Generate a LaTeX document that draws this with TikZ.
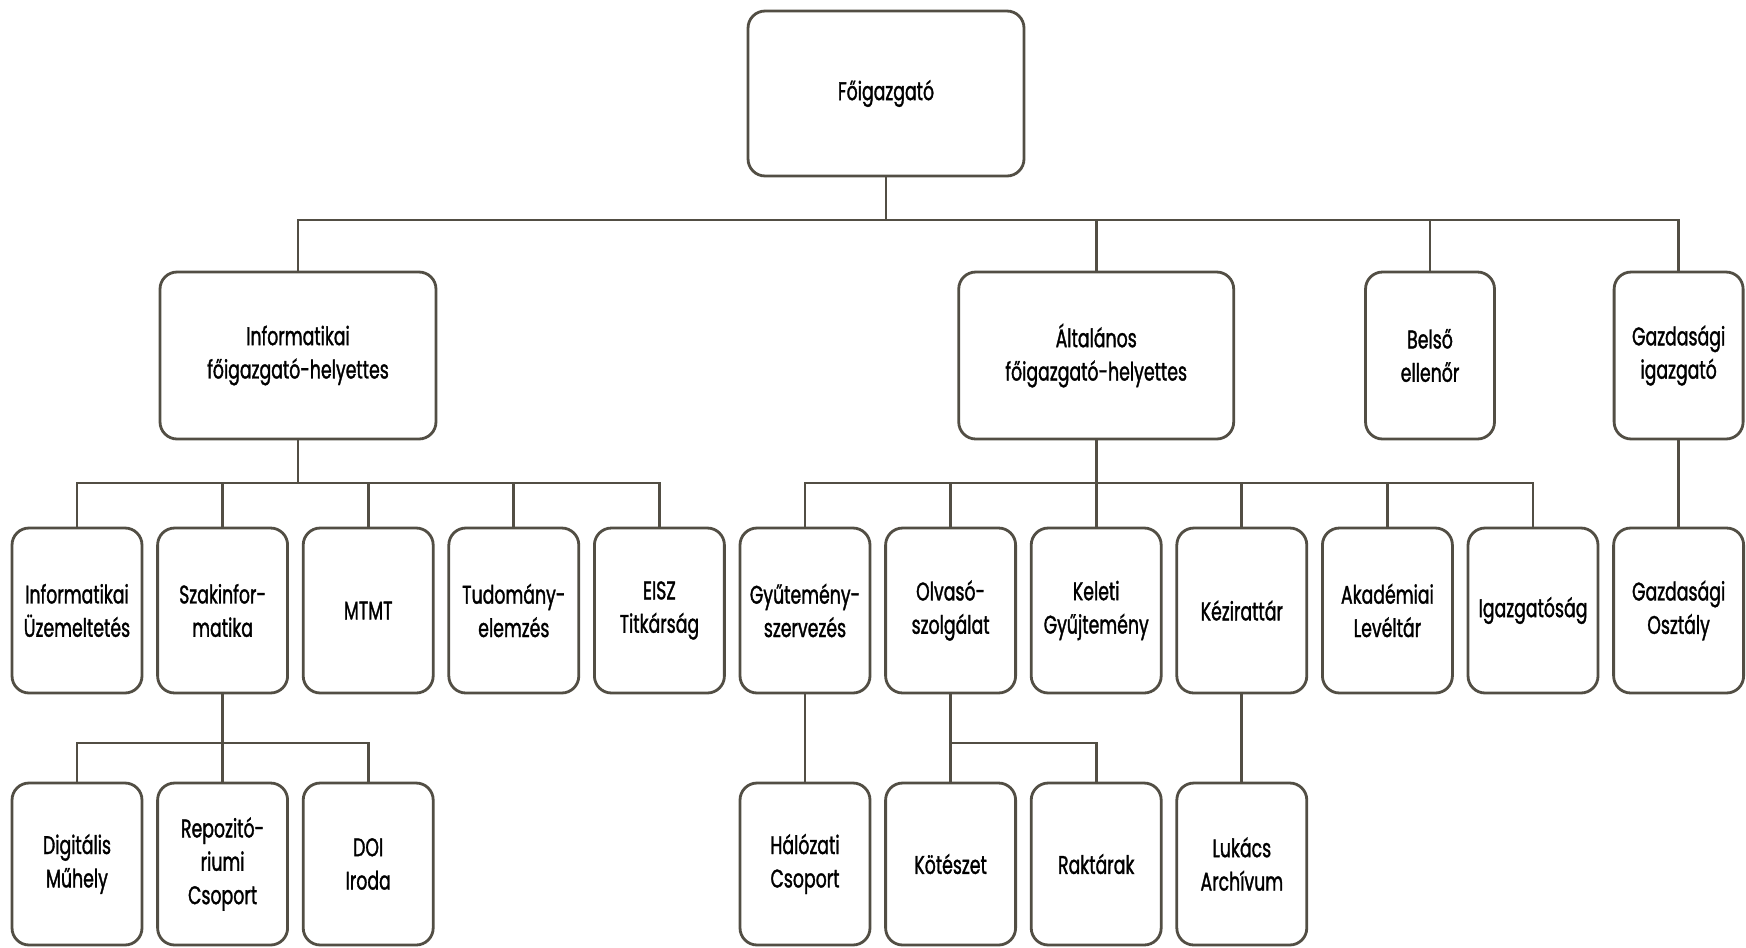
\documentclass[tikz,border=0pt]{standalone}
\usepackage{fontspec}
\setmainfont{Poppins}[FakeStretch=0.68,FakeBold=1.3]
\definecolor{kline}{RGB}{82,78,68}
\tikzset{kbox/.style={draw=kline,line width=1.6pt,rounded corners=0.34cm,align=center,inner sep=0pt,font=\fontsize{14.5}{19}\selectfont},
kcon/.style={draw=kline,line width=1.6pt}}
\begin{document}
\begin{tikzpicture}[x=0.02cm,y=-0.02cm]
\pgfmathsetmacro{\kxstep}{145.6}
\pgfmathsetmacro{\kxo}{77}
\pgfmathsetmacro{\kya}{355.5}
\pgfmathsetmacro{\kyb}{610.5}
\pgfmathsetmacro{\kyc}{864}
\useasboundingbox (0,0) rectangle (1746,947);
\coordinate (bus1) at (0,220);
\coordinate (bus2) at (0,483);
\coordinate (bus3) at (0,743);
\node[kbox,minimum width=5.52cm,minimum height=3.3cm](fo) at (886,93.5){Főigazgató};
\node[kbox,minimum width=5.52cm,minimum height=3.34cm](ifh) at (298,\kya){Informatikai\\főigazgató-helyettes};
\node[kbox,minimum width=5.5cm,minimum height=3.34cm](afh) at (\kxo+7*\kxstep,\kya){Általános\\főigazgató-helyettes};
\node[kbox,minimum width=2.58cm,minimum height=3.34cm](bel) at (1430,\kya){Belső\\ellenőr};
\node[kbox,minimum width=2.58cm,minimum height=3.34cm](gig) at (\kxo+11*\kxstep,\kya){Gazdasági\\igazgató};
\foreach \kx/\kn/\klb in {0/iu/{Informatikai\\Üzemeltetés},1/szi/{Szakinfor-\\matika},2/mtmt/MTMT,3/tud/{Tudomány-\\elemzés},4/eisz/{EISZ\\Titkárság},5/gysz/{Gyűtemény-\\szervezés},6/olv/{Olvasó-\\szolgálat},7/kel/{Keleti\\Gyűjtemény},8/kez/Kézirattár,9/akl/{Akadémiai\\Levéltár},10/igs/Igazgatóság,11/gosz/{Gazdasági\\Osztály}}{\node[kbox,minimum width=2.6cm,minimum height=3.3cm](\kn) at (\kxo+\kx*\kxstep,\kyb){\klb};}
\foreach \kx/\kn/\klb in {0/dm/{Digitális\\Műhely},1/rcs/{Repozitó-\\riumi\\Csoport},2/doi/{DOI\\Iroda},5/hcs/{Hálózati\\Csoport},6/kot/Kötészet,7/rak/Raktárak,8/lar/{Lukács\\Archívum}}{\node[kbox,minimum width=2.6cm,minimum height=3.24cm](\kn) at (\kxo+\kx*\kxstep,\kyc){\klb};}
\foreach \kc in {ifh,afh,bel,gig}{\draw[kcon](fo.south)--(fo.south|-bus1)-|(\kc.north);}
\foreach \kc in {iu,szi,mtmt,tud,eisz}{\draw[kcon](ifh.south)--(ifh.south|-bus2)-|(\kc.north);}
\foreach \kc in {gysz,olv,kel,kez,akl,igs}{\draw[kcon](afh.south)--(afh.south|-bus2)-|(\kc.north);}
\draw[kcon](gig)--(gosz);
\foreach \kc in {dm,rcs,doi}{\draw[kcon](szi.south)--(szi.south|-bus3)-|(\kc.north);}
\foreach \kc in {kot,rak}{\draw[kcon](olv.south)--(olv.south|-bus3)-|(\kc.north);}
\draw[kcon](gysz)--(hcs);
\draw[kcon](kez)--(lar);
\end{tikzpicture}
\end{document}
